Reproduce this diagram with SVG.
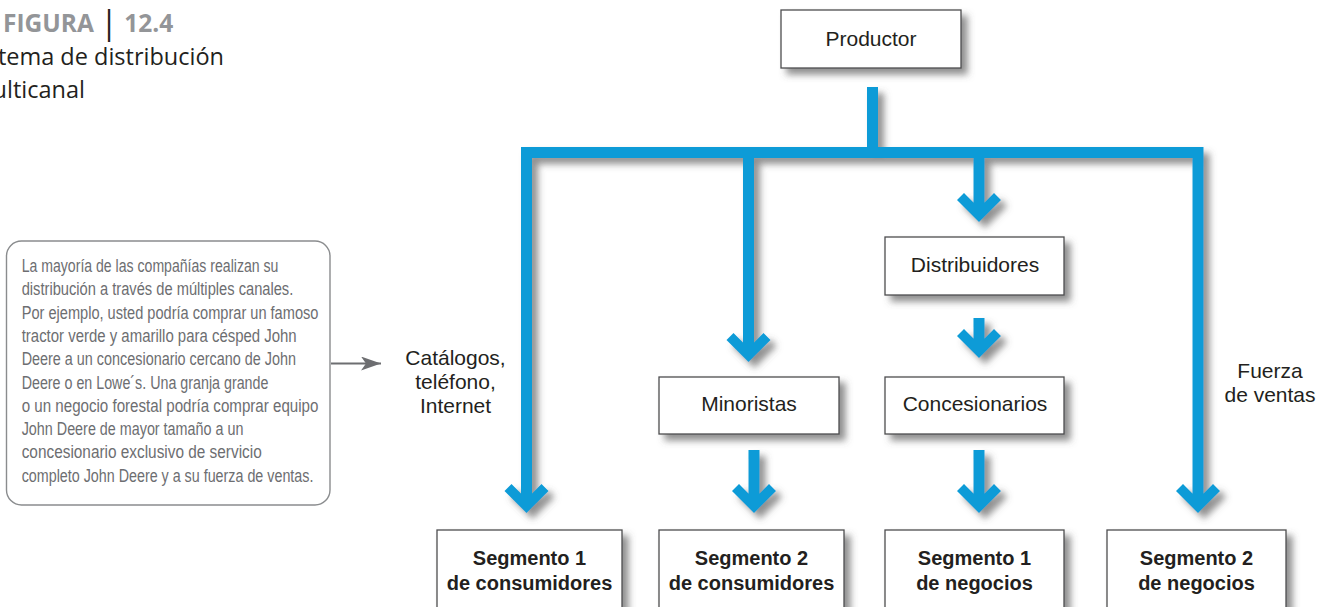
<svg xmlns="http://www.w3.org/2000/svg" width="1330" height="607" viewBox="0 0 1330 607">
<style>
.box{fill:#fff;stroke:#4d4d4f;stroke-width:1.3}
.lbl{font-family:"Liberation Sans",Arial,sans-serif;font-size:21px;fill:#231f20;text-anchor:middle}
.seg{font-family:"Liberation Sans",Arial,sans-serif;font-size:20px;font-weight:bold;fill:#231f20;text-anchor:middle}
.note{font-family:"Liberation Sans",Arial,sans-serif;font-size:17.5px;fill:#6d6e71}
.ttl{font-family:"Open Sans","DejaVu Sans",sans-serif}
.flow{fill:none;stroke:#0a9bd7;stroke-width:11;stroke-linejoin:miter;stroke-linecap:butt}
.ah{fill:#0a9bd7}
</style>
<defs>
<filter id="sh" x="-20%" y="-20%" width="150%" height="150%">
<feDropShadow dx="6" dy="6" stdDeviation="3.5" flood-color="#555" flood-opacity="0.65"/>
</filter>
<path id="head" d="M0,0 L22,-22 L15,-29 L5.5,-19.5 L-5.5,-19.5 L-15,-29 L-22,-22 Z"/>
<marker id="gray" viewBox="0 0 20 14" refX="20" refY="7" markerWidth="20" markerHeight="14" markerUnits="userSpaceOnUse" orient="auto">
<path d="M0,0 L20,7 L0,14 L5,7 Z" fill="#6d6e71"/>
</marker>
</defs>
<rect width="1330" height="607" fill="#fff"/>

<g id="title">
<text class="ttl" x="3" y="32" font-size="24.5" font-weight="700" fill="#939598">FIGURA <tspan fill="#231f20" font-weight="400" font-size="32" dy="2">|</tspan><tspan dy="-2"> 12.4</tspan></text>
<text class="ttl" x="224" y="65" font-size="23.5" fill="#231f20" text-anchor="end">Sistema de distribución</text>
<text class="ttl" x="85" y="98" font-size="23.5" fill="#231f20" text-anchor="end">multicanal</text>
</g>

<g id="connectors">
<g filter="url(#sh)">
<path class="flow" d="M526.5,494 V152.5 H1198 V494"/>
<path class="flow" d="M872.5,87 V152.5 M748.5,152 V344 M979,152 V204 M979,318 V340 M754,450 V495 M979,450 V495"/>
<use href="#head" class="ah" x="526.5" y="513"/>
<use href="#head" class="ah" x="1198" y="513"/>
<use href="#head" class="ah" x="748.5" y="362"/>
<use href="#head" class="ah" x="979" y="222"/>
<use href="#head" class="ah" x="979" y="358"/>
<use href="#head" class="ah" x="754" y="513"/>
<use href="#head" class="ah" x="979" y="513"/>
</g>
<line x1="331" y1="363.5" x2="381" y2="363.5" stroke="#6d6e71" stroke-width="2" marker-end="url(#gray)"/>
</g>

<g id="productor">
<rect class="box" x="781" y="10" width="180" height="58" filter="url(#sh)"/>
<text class="lbl" x="871" y="46">Productor</text>
</g>
<g id="distribuidores">
<rect class="box" x="885" y="237" width="179" height="58" filter="url(#sh)"/>
<text class="lbl" x="975" y="272">Distribuidores</text>
</g>
<g id="minoristas">
<rect class="box" x="659" y="377" width="180" height="57" filter="url(#sh)"/>
<text class="lbl" x="749" y="411">Minoristas</text>
</g>
<g id="concesionarios">
<rect class="box" x="885" y="377" width="179" height="57" filter="url(#sh)"/>
<text class="lbl" x="975" y="411">Concesionarios</text>
</g>

<g id="seg1cons">
<rect class="box" x="437" y="530" width="185" height="100" filter="url(#sh)"/>
<text class="seg" x="529.5" y="565">Segmento 1</text>
<text class="seg" x="529.5" y="590">de consumidores</text>
</g>
<g id="seg2cons">
<rect class="box" x="659" y="530" width="185" height="100" filter="url(#sh)"/>
<text class="seg" x="751.5" y="565">Segmento 2</text>
<text class="seg" x="751.5" y="590">de consumidores</text>
</g>
<g id="seg1neg">
<rect class="box" x="885" y="530" width="179" height="100" filter="url(#sh)"/>
<text class="seg" x="974.5" y="565">Segmento 1</text>
<text class="seg" x="974.5" y="590">de negocios</text>
</g>
<g id="seg2neg">
<rect class="box" x="1107" y="530" width="179" height="100" filter="url(#sh)"/>
<text class="seg" x="1196.5" y="565">Segmento 2</text>
<text class="seg" x="1196.5" y="590">de negocios</text>
</g>

<g id="label-catalogos">
<text class="lbl" x="455.5" y="365">Catálogos,</text>
<text class="lbl" x="455.5" y="389">teléfono,</text>
<text class="lbl" x="455.5" y="413">Internet</text>
</g>
<g id="label-fuerza">
<text class="lbl" x="1270" y="378">Fuerza</text>
<text class="lbl" x="1270" y="402">de ventas</text>
</g>

<g id="callout">
<rect x="6.5" y="241" width="323.5" height="264" rx="15" ry="15" fill="#fff" stroke="#8a8c8e" stroke-width="1.4"/>
<text class="note" x="21.7" y="272" textLength="256.7" lengthAdjust="spacingAndGlyphs">La mayoría de las compañías realizan su</text>
<text class="note" x="21.7" y="295.3" textLength="271.6" lengthAdjust="spacingAndGlyphs">distribución a través de múltiples canales.</text>
<text class="note" x="21.7" y="318.6" textLength="296.7" lengthAdjust="spacingAndGlyphs">Por ejemplo, usted podría comprar un famoso</text>
<text class="note" x="21.7" y="341.9" textLength="275" lengthAdjust="spacingAndGlyphs">tractor verde y amarillo para césped John</text>
<text class="note" x="21.7" y="365.2" textLength="274.3" lengthAdjust="spacingAndGlyphs">Deere a un concesionario cercano de John</text>
<text class="note" x="21.7" y="388.5" textLength="246.7" lengthAdjust="spacingAndGlyphs">Deere o en Lowe´s. Una granja grande</text>
<text class="note" x="21.7" y="411.8" textLength="296.7" lengthAdjust="spacingAndGlyphs">o un negocio forestal podría comprar equipo</text>
<text class="note" x="21.7" y="435.1" textLength="221.7" lengthAdjust="spacingAndGlyphs">John Deere de mayor tamaño a un</text>
<text class="note" x="21.7" y="458.4" textLength="240" lengthAdjust="spacingAndGlyphs">concesionario exclusivo de servicio</text>
<text class="note" x="21.7" y="481.7" textLength="291.7" lengthAdjust="spacingAndGlyphs">completo John Deere y a su fuerza de ventas.</text>
</g>
</svg>
